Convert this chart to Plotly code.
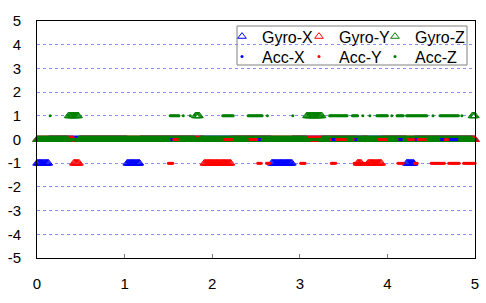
import numpy as np
import plotly.graph_objects as go

# ---- data: time base (s) and level segments ----
TIME = np.round(np.arange(0, 5.0001, 0.01), 2)

# segments (start, end) where a series leaves 0
GYRO_X_NEG = [(0.00, 0.13), (1.03, 1.17), (2.68, 2.91), (4.22, 4.30)]
GYRO_Y_NEG = [(0.42, 0.48), (1.91, 2.21), (3.66, 3.70), (3.78, 3.93)]
GYRO_Z_POS = [(0.36, 0.47), (1.81, 1.85), (3.08, 3.25), (4.97, 5.00)]
ACC_X_NEG = []
ACC_Y_NEG = [(1.50, 1.55), (2.52, 2.56), (2.62, 2.66), (3.01, 3.06), (3.36, 3.41),
             (3.62, 3.78), (4.12, 4.18), (4.31, 4.34), (4.50, 4.65), (4.70, 4.82),
             (4.87, 5.00)]
ACC_Z_POS = [(0.15, 0.15), (1.52, 1.62), (1.67, 1.67), (1.75, 1.75), (2.12, 2.24),
             (2.41, 2.57), (2.63, 2.63), (2.92, 2.92), (3.34, 3.54), (3.60, 3.66),
             (3.72, 3.72), (3.80, 3.80), (3.88, 4.00), (4.05, 4.05), (4.11, 4.18),
             (4.22, 4.45), (4.52, 4.52), (4.60, 4.81), (4.85, 4.85)]

SERIES_NAMES = ["Gyro-X", "Gyro-Y", "Gyro-Z", "Acc-X", "Acc-Y", "Acc-Z"]
Y_TICKS = [-5, -4, -3, -2, -1, 0, 1, 2, 3, 4, 5]
Y_TICK_LABELS = ["-5", "-4", "-3", "-2", "-1", "0", "1", "2", "3", "4", "5"]
X_TICKS = [0, 1, 2, 3, 4, 5]
X_TICK_LABELS = ["0", "1", "2", "3", "4", "5"]


def levels(segments, level):
    y = np.zeros_like(TIME)
    for a, b in segments:
        y[(TIME >= a - 1e-6) & (TIME <= b + 1e-6)] = level
    return y


series = {
    "Gyro-X": levels(GYRO_X_NEG, -1),
    "Gyro-Y": levels(GYRO_Y_NEG, -1),
    "Gyro-Z": levels(GYRO_Z_POS, 1),
    "Acc-X": levels(ACC_X_NEG, -1),
    "Acc-Y": levels(ACC_Y_NEG, -1),
    "Acc-Z": levels(ACC_Z_POS, 1),
}

colors = {"X": "#0000FF", "Y": "#FF0000", "Z": "#008000"}
FONT = "Arial, 'Liberation Sans', sans-serif"

# legend layout: one single-entry legend per cell (3 columns x 2 rows)
W_PLOT, H_PLOT, ML, MT = 438, 237, 37, 21
COL_PX = [222, 299, 375]
ROW_PX = [36.5, 56.5]

fig = go.Figure()
legend_layout = {}
for i, name in enumerate(SERIES_NAMES):
    gyro = name.startswith("Gyro")
    c = colors[name[-1]]
    key = "legend" if i == 0 else f"legend{i + 1}"
    fig.add_trace(go.Scatter(
        x=TIME, y=series[name], name=name, mode="markers",
        cliponaxis=False, legend=key,
        marker=dict(symbol="triangle-up-open" if gyro else "circle",
                    size=7.5 if gyro else 3, color=c,
                    line=dict(width=1, color=c) if gyro else dict(width=0)),
        hoverinfo="skip",
    ))
    col, row = i % 3, i // 3
    legend_layout[key] = dict(
        x=(COL_PX[col] - ML) / W_PLOT, xanchor="left",
        y=1 - (ROW_PX[row] - MT) / H_PLOT, yanchor="middle",
        bgcolor="rgba(0,0,0,0)", borderwidth=0, font=dict(size=16),
        itemclick=False, itemdoubleclick=False)

grid = "#8c8cf0"
fig.update_layout(
    width=486, height=303,
    margin=dict(l=ML, r=11, t=MT, b=45, autoexpand=False),
    paper_bgcolor="white", plot_bgcolor="white",
    font=dict(family=FONT, size=15, color="black"),
    showlegend=True,
    shapes=[dict(type="rect", xref="paper", yref="paper",
                 x0=(237 - ML) / W_PLOT, x1=(467 - ML) / W_PLOT,
                 y0=1 - (65 - MT) / H_PLOT, y1=1 - (26 - MT) / H_PLOT,
                 line=dict(color="#808080", width=1),
                 fillcolor="white", layer="below")],
    xaxis=dict(range=[0, 5], tickvals=X_TICKS, ticktext=X_TICK_LABELS,
               showgrid=False, zeroline=False, showline=True, mirror=True,
               linecolor="black", linewidth=1, ticks="inside", ticklen=4,
               tickcolor="#808080", ticklabelstandoff=12,
               tickfont=dict(size=15)),
    yaxis=dict(range=[-5, 5], tickvals=Y_TICKS, ticktext=Y_TICK_LABELS,
               showgrid=True, gridcolor=grid, griddash="dot", gridwidth=1,
               zeroline=False, showline=True, mirror=True,
               linecolor="black", linewidth=1, ticks="", ticklabelstandoff=12,
               tickfont=dict(size=15)),
    **legend_layout,
)

fig.write_html("out.html")
